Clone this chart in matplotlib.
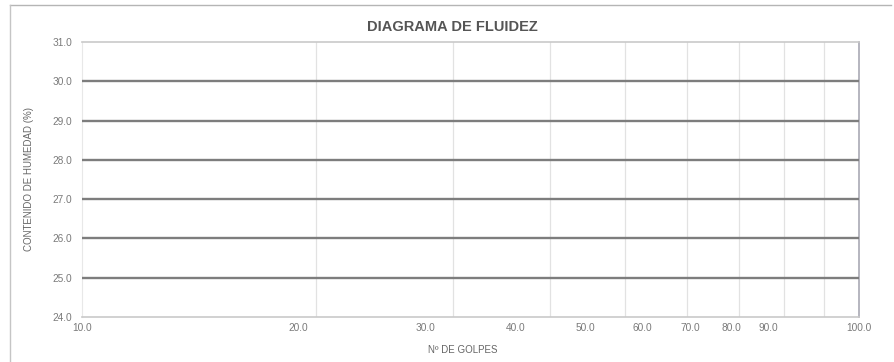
import numpy as np
import matplotlib
matplotlib.use("Agg")
import matplotlib.pyplot as plt
from matplotlib.lines import Line2D

plt.rcParams['font.family'] = ['Liberation Sans', 'DejaVu Sans']

# datos del diagrama
golpes_min, golpes_max = 10, 100
golpes_grid = [20, 30, 40, 50, 60, 70, 80, 90]
humedad_min, humedad_max = 24, 31
humedad_ticks = [24, 25, 26, 27, 28, 29, 30, 31]
humedad_lineas = [25, 26, 27, 28, 29, 30]

titulo = 'DIAGRAMA DE FLUIDEZ'
xlabel = 'Nº DE GOLPES'
ylabel = 'CONTENIDO DE HUMEDAD (%)'

gris_txt = '#7a7a7a'
fs_tick = 7.3

fig = plt.figure(figsize=(8.95, 3.62), dpi=100)
ax = fig.add_axes([0.0916, 0.1243, 0.8683, 0.7597])

ax.set_xscale('log')
ax.set_xlim(golpes_min, golpes_max)
ax.set_ylim(humedad_min, humedad_max)

# lineas horizontales oscuras
ax.hlines(humedad_lineas, golpes_min, golpes_max, colors='#7d7d7d', linewidth=1.7, zorder=3)

# rejilla vertical
ax.set_xticks([golpes_min, golpes_max])
ax.set_xticklabels([f'{golpes_min:.1f}', f'{golpes_max:.1f}'])
ax.set_xticks(golpes_grid, minor=True)
ax.xaxis.set_minor_formatter(matplotlib.ticker.NullFormatter())
ax.grid(True, axis='x', which='minor', color='#e2e2e2', linewidth=0.9)
ax.tick_params(axis='x', which='both', length=0, pad=4, labelsize=fs_tick, labelcolor=gris_txt)

ax.set_yticks(humedad_ticks)
ax.set_yticklabels([f'{v:.1f}' for v in humedad_ticks])
ax.tick_params(axis='y', length=0, pad=7, labelsize=fs_tick, labelcolor=gris_txt)

for s in ['top', 'bottom']:
    ax.spines[s].set_color('#c9c9c9')
    ax.spines[s].set_linewidth(1.2)
ax.spines['left'].set_color('#e8e8e8')
ax.spines['right'].set_color('#a9a9b4')
ax.spines['right'].set_linewidth(1.2)

# etiquetas de golpes intermedias (desplazadas como en la hoja original)
k = 1.08
fwd = lambda x: 10 ** (1 + (np.log10(x) - 1) * k)
inv = lambda v: 10 ** (1 + (np.log10(v) - 1) / k)
sec = ax.secondary_xaxis('bottom', functions=(fwd, inv))
sec.set_xticks(golpes_grid)
sec.set_xticklabels([f'{g:.1f}' for g in golpes_grid])
sec.xaxis.set_minor_locator(matplotlib.ticker.NullLocator())
sec.tick_params(axis='x', which='both', length=0, pad=4, labelsize=fs_tick, labelcolor=gris_txt)
sec.spines['bottom'].set_visible(False)

ax.set_xlabel(xlabel, fontsize=7, color='#666666')
ax.xaxis.set_label_coords(0.49, -0.1)
ax.set_ylabel(ylabel, fontsize=7, color='#666666')
ax.yaxis.set_label_coords(-0.062, 0.5)
ax.set_title(titulo, fontsize=10.5, fontweight='bold', color='#555555', pad=8, x=0.477)

# marco exterior
fig.add_artist(Line2D([0.011, 0.995], [0.986, 0.986], color='#b5b5b5', linewidth=1.0))
fig.add_artist(Line2D([0.011, 0.011], [0.0, 0.986], color='#c5c5c5', linewidth=1.0))

fig.savefig('out.png', dpi=100, facecolor='white')
